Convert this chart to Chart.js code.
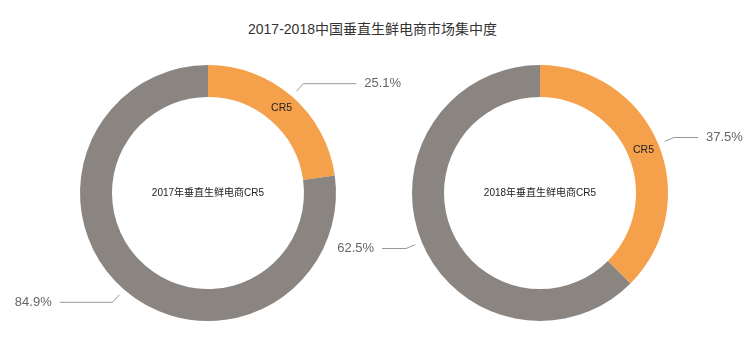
<!DOCTYPE html>
<html>
<head>
<meta charset="utf-8">
<script src="https://cdn.jsdelivr.net/npm/chart.js@4/dist/chart.umd.min.js"></script>
<style>
    body { margin: 0; background: #fff; }
    #wrap { position: relative; width: 745px; height: 342px; }
    #title {
        position: absolute; left: 0; top: 18px; width: 745px; text-align: center;
        font: 14px "Liberation Sans", "Noto Sans CJK SC", sans-serif; color: #333;
    }
    .pie { position: absolute; top: 55px; width: 416px; height: 276px; }
</style>
</head>
<body>
<div id="wrap">
    <div id="title">2017-2018中国垂直生鲜电商市场集中度</div>
    <div class="pie" style="left:0"><canvas id="pie2017"></canvas></div>
    <div class="pie" style="left:332px"><canvas id="pie2018"></canvas></div>
</div>
<script>
const years = ['2017', '2018'];
const segNames = ['CR5', '其他'];
const cr5 = [25.1, 37.5];
const others = [84.9, 62.5];

const colors = ['#f5a04b', '#8a8580'];
const FONT = '"Liberation Sans", "Noto Sans CJK SC", sans-serif';

// leader lines with outside % labels, "CR5" on the first arc, title in the hole
const pieLabels = {
    id: 'pieLabels',
    afterDatasetsDraw(chart, args, opts) {
        const ctx = chart.ctx;
        const meta = chart.getDatasetMeta(0);
        const data = chart.data.datasets[0].data;
        ctx.save();
        meta.data.forEach(function (arc, i) {
            const p = arc.getProps(['x', 'y', 'startAngle', 'endAngle', 'innerRadius', 'outerRadius'], true);
            const mid = (p.startAngle + p.endAngle) / 2;
            const cos = Math.cos(mid), sin = Math.sin(mid);
            const r1 = p.outerRadius + 7, r2 = p.outerRadius + 17;
            const x1 = p.x + cos * r1, y1 = p.y + sin * r1;
            const x2 = p.x + cos * r2, y2 = p.y + sin * r2;
            const dir = cos >= 0 ? 1 : -1;
            const x3 = x2 + dir * opts.len2;
            ctx.strokeStyle = '#999';
            ctx.lineWidth = 1;
            ctx.beginPath();
            ctx.moveTo(x1, y1);
            ctx.lineTo(x2, y2);
            ctx.lineTo(x3, y2);
            ctx.stroke();
            ctx.fillStyle = '#666';
            ctx.font = '13px ' + FONT;
            ctx.textBaseline = 'middle';
            ctx.textAlign = dir > 0 ? 'left' : 'right';
            ctx.fillText(data[i].toFixed(1) + '%', x3 + dir * 8, y2);

            if (i === 0) {
                const rm = (p.innerRadius + p.outerRadius) / 2;
                ctx.fillStyle = '#222';
                ctx.font = '10.5px ' + FONT;
                ctx.textAlign = 'center';
                ctx.fillText(chart.data.labels[0], p.x + cos * rm, p.y + sin * rm);
            }
        });
        const a = meta.data[0];
        ctx.fillStyle = '#222';
        ctx.font = '10px ' + FONT;
        ctx.textAlign = 'center';
        ctx.textBaseline = 'middle';
        ctx.fillText(opts.center, a.x, a.y);
        ctx.restore();
    }
};

function makePie(id, k, len2) {
    return new Chart(document.getElementById(id), {
        type: 'doughnut',
        data: {
            labels: segNames,
            datasets: [{
                data: [cr5[k], others[k]],
                backgroundColor: colors,
                borderWidth: 0
            }]
        },
        options: {
            responsive: true,
            maintainAspectRatio: false,
            animation: false,
            cutout: '75%',
            layout: { padding: 10 },
            plugins: {
                legend: { display: false },
                tooltip: { enabled: false },
                pieLabels: { len2: len2, center: years[k] + '年垂直生鲜电商CR5' }
            }
        },
        plugins: [pieLabels]
    });
}

makePie('pie2017', 0, 53);
makePie('pie2018', 1, 24);
</script>
</body>
</html>
